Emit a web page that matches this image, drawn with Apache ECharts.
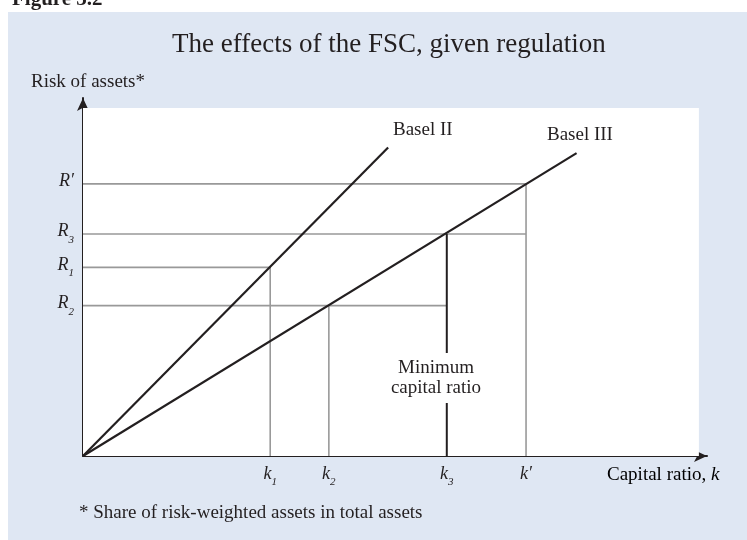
<!DOCTYPE html>
<html>
<head>
<meta charset="utf-8">
<script src="https://cdn.jsdelivr.net/npm/echarts@6/dist/echarts.min.js"></script>
<style>
  html, body { margin: 0; padding: 0; background: #fff; }
  #chart { width: 747px; height: 540px; }
</style>
</head>
<body>
<div id="chart"></div>
<script>
// capital ratio ticks (x) and risk ticks (y), in chart units
const kNames  = ['k_1', 'k_2', 'k_3', 'k′']
const kValues = [30, 39.4, 58.3, 71]
const rNames  = ['R′', 'R_3', 'R_1', 'R_2']
const rValues = [76, 62, 52.7, 42]

// regulation lines, both from the origin
const basel2 = [[0, 0], [48.9, 86.2]]
const basel3 = [[0, 0], [79.1, 84.6]]

// white plotting panel
const panelMax = [98.7, 97.2]

const INK   = '#231f20'
const GUIDE = '#999999'
const SERIF = '"Liberation Serif", "DejaVu Serif", serif'

const [k1, k2, k3, kp] = kValues
const [rp, r3, r1, r2] = rValues

// thin guide lines from the ticks to the curves
const guides = [
  [[0, rp], [kp, rp], [kp, 0]],
  [[0, r3], [kp, r3]],
  [[0, r1], [k1, r1], [k1, 0]],
  [[0, r2], [k3, r2]],
  [[k2, r2], [k2, 0]]
]
const minLine = [[k3, r3], [k3, 0]]

function tickText(name) {
  const [b, s] = name.split('_')
  return s ? `{m|${b}}{s|${s}}` : `{m|${b}}`
}
function lookup(values, names, v) {
  const i = values.findIndex(x => Math.abs(x - v) < 1e-6)
  return i < 0 ? '' : tickText(names[i])
}

const rich = {
  m: { fontFamily: SERIF, fontStyle: 'italic', fontSize: 18, color: INK, verticalAlign: 'top', padding: [0, 0, 5, 0] },
  s: { fontFamily: SERIF, fontStyle: 'italic', fontSize: 11, color: INK, verticalAlign: 'bottom' }
}

const chart = echarts.init(document.getElementById('chart'))

chart.setOption({
  animation: false,
  title: {
    text: 'The effects of the FSC, given regulation',
    left: 167, top: 26,
    textStyle: { fontFamily: SERIF, fontWeight: 'normal', fontSize: 27, color: INK }
  },
  grid: { left: 83, top: 98, right: 40, bottom: 84 },
  xAxis: {
    type: 'value', min: 0, max: 100,
    splitLine: { show: false },
    axisTick: { show: false },
    axisLine: { lineStyle: { color: INK, width: 2 }, symbol: ['none', 'arrow'], symbolSize: [9, 13] },
    axisLabel: { customValues: kValues, margin: 9, formatter: v => lookup(kValues, kNames, v), rich }
  },
  yAxis: {
    type: 'value', min: 0, max: 100,
    splitLine: { show: false },
    axisTick: { show: false },
    axisLine: { lineStyle: { color: INK, width: 2 }, symbol: ['none', 'arrow'], symbolSize: [9, 13] },
    axisLabel: { customValues: rValues, margin: 9, formatter: v => lookup(rValues, rNames, v), rich }
  },
  series: [
    {
      type: 'line', data: [], z: 1, silent: true,
      markArea: { silent: true, itemStyle: { color: '#fff' }, data: [[{ coord: [0, 0] }, { coord: panelMax }]] }
    },
    ...guides.map(g => ({
      type: 'line', data: g, symbol: 'none', z: 2, silent: true,
      lineStyle: { color: GUIDE, width: 1.6 }
    })),
    { type: 'line', data: minLine, symbol: 'none', z: 3, lineStyle: { color: INK, width: 2 } },
    { name: 'Basel II', type: 'line', data: basel2, symbol: 'none', z: 4, lineStyle: { color: INK, width: 2.2 } },
    { name: 'Basel III', type: 'line', data: basel3, symbol: 'none', z: 4, lineStyle: { color: INK, width: 2.2 } }
  ],
  graphic: [
    { type: 'rect', z: -100, shape: { x: 8, y: 12, width: 739, height: 528 }, style: { fill: '#dfe7f3' } },
    { type: 'text', z: 100, x: 12, y: 10, style: { text: 'Figure 3.2', font: 'bold 21px ' + SERIF, fill: INK, verticalAlign: 'bottom' } },
    { type: 'text', z: 100, x: 31, y: 82, style: { text: 'Risk of assets*', font: '19px ' + SERIF, fill: INK, verticalAlign: 'middle' } },
    { type: 'text', z: 100, x: 393, y: 130, style: { text: 'Basel II', font: '19px ' + SERIF, fill: INK, verticalAlign: 'middle' } },
    { type: 'text', z: 100, x: 547, y: 135, style: { text: 'Basel III', font: '19px ' + SERIF, fill: INK, verticalAlign: 'middle' } },
    {
      type: 'text', z: 100, x: 436, y: 378,
      style: {
        text: 'Minimum\ncapital ratio', font: '19px ' + SERIF, fill: INK, lineHeight: 20,
        align: 'center', verticalAlign: 'middle', backgroundColor: '#fff', padding: [5, 2]
      }
    },
    {
      type: 'text', z: 100, x: 607, y: 475,
      style: {
        text: '{a|Capital ratio, }{b|k}', verticalAlign: 'middle',
        rich: {
          a: { fontFamily: SERIF, fontSize: 19, color: INK },
          b: { fontFamily: SERIF, fontSize: 19, fontStyle: 'italic', color: INK }
        }
      }
    },
    { type: 'text', z: 100, x: 79, y: 513, style: { text: '* Share of risk-weighted assets in total assets', font: '19px ' + SERIF, fill: INK, verticalAlign: 'middle' } }
  ]
})
</script>
</body>
</html>
